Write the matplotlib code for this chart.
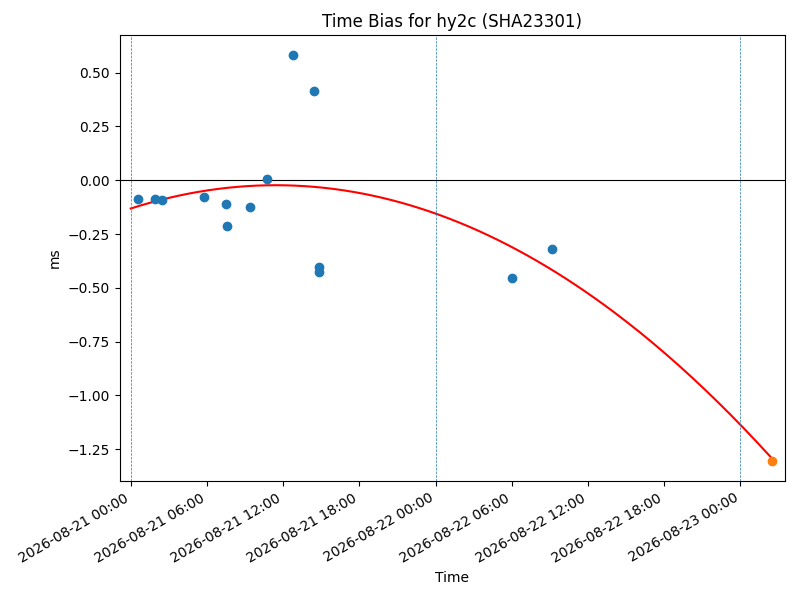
import matplotlib
matplotlib.use('Agg')
import matplotlib.pyplot as plt
import matplotlib.dates as mdates
import numpy as np
from datetime import datetime, timedelta

# measured time bias (ms)
obs_times = ['2026-08-21 00:35', '2026-08-21 01:55', '2026-08-21 02:28',
             '2026-08-21 05:47', '2026-08-21 07:29', '2026-08-21 07:34',
             '2026-08-21 09:24', '2026-08-21 10:44', '2026-08-21 12:46',
             '2026-08-21 14:27', '2026-08-21 14:49', '2026-08-21 14:50',
             '2026-08-22 06:01', '2026-08-22 09:12']
obs_bias = [-0.085, -0.085, -0.090, -0.076, -0.112, -0.211, -0.122,
            0.008, 0.581, 0.417, -0.401, -0.425, -0.453, -0.318]

# points read on the fitted curve
fit_times = ['2026-08-21 00:00', '2026-08-21 11:00', '2026-08-22 00:00',
             '2026-08-22 14:30', '2026-08-23 00:00']
fit_bias = [-0.132, -0.022, -0.154, -0.635, -1.135]

# predicted value at end
pred_time = '2026-08-23 02:31'
pred_bias = -1.304

day_lines = ['2026-08-21 00:00', '2026-08-22 00:00', '2026-08-23 00:00']


def to_dt(s):
    return datetime.strptime(s, '%Y-%m-%d %H:%M')


t0 = to_dt(fit_times[0])
fit_h = np.array([(to_dt(s) - t0).total_seconds() / 3600 for s in fit_times])
coef = np.polyfit(fit_h, fit_bias, 2)
end_h = (to_dt(pred_time) - t0).total_seconds() / 3600
curve_h = np.linspace(0, end_h, 200)
curve_t = [t0 + timedelta(hours=float(h)) for h in curve_h]
curve_y = np.polyval(coef, curve_h)

fig, ax = plt.subplots(figsize=(8, 6), dpi=100)
ax.scatter([to_dt(s) for s in obs_times], obs_bias, zorder=3)
ax.plot(curve_t, curve_y, c='r')
ax.scatter([to_dt(pred_time)], [pred_bias], c='C1', zorder=3)
ax.axhline(0, c='k', linewidth=0.8)
for d in day_lines:
    ax.axvline(to_dt(d), linestyle='--', linewidth=0.5)

ax.set_xlim(t0 - timedelta(minutes=52), t0 + timedelta(hours=51, minutes=32))
ax.xaxis.set_major_locator(mdates.HourLocator(byhour=[0, 6, 12, 18]))
ax.xaxis.set_major_formatter(mdates.DateFormatter('%Y-%m-%d %H:%M'))
ax.set_title('Time Bias for hy2c (SHA23301)')
ax.set_xlabel('Time')
ax.set_ylabel('ms')
fig.autofmt_xdate()
fig.subplots_adjust(left=0.1496, right=0.9816, top=0.9417, bottom=0.198)
fig.savefig('out.png')
